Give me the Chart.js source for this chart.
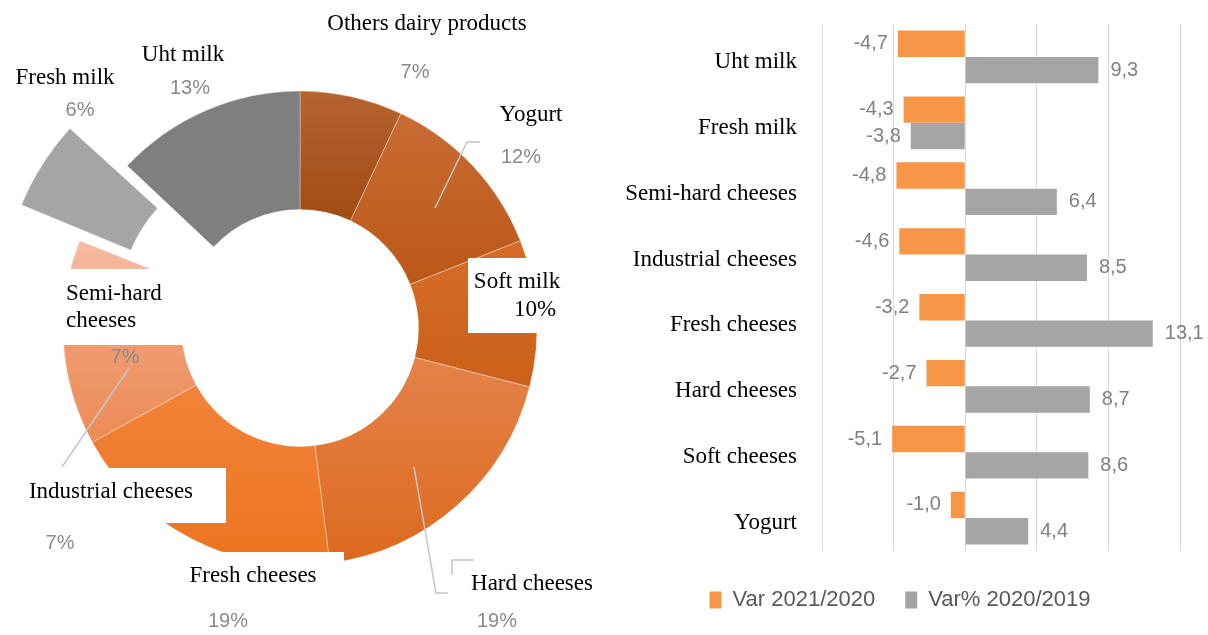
<!DOCTYPE html>
<html>
<head>
<meta charset="utf-8">
<script src="https://cdn.jsdelivr.net/npm/chart.js@4.4.1/dist/chart.umd.min.js"></script>
<style>
  html, body { margin: 0; padding: 0; background: #fff; width: 1208px; height: 635px; overflow: hidden; }
  #pie { position: absolute; left: 0; top: 0; }
  #bars { position: absolute; left: 600px; top: 0; }
</style>
</head>
<body>
<canvas id="pie" width="600" height="635"></canvas>
<canvas id="bars" width="608" height="635"></canvas>
<script>
// left: share of sales (%)
const shareLabels = ["Others dairy products", "Yogurt", "Soft milk", "Hard cheeses", "Fresh cheeses",
                     "Industrial cheeses", "Semi-hard cheeses", "Fresh milk", "Uht milk"];
const shares = [7, 12, 10, 19, 19, 7, 7, 6, 13];

// right: variations by product
const categories = ["Uht milk", "Fresh milk", "Semi-hard cheeses", "Industrial cheeses",
                    "Fresh cheeses", "Hard cheeses", "Soft cheeses", "Yogurt"];
const var2021 = [-4.7, -4.3, -4.8, -4.6, -3.2, -2.7, -5.1, -1.0];
const var2020 = [9.3, -3.8, 6.4, 8.5, 13.1, 8.7, 8.6, 4.4];

const SERIF = '"Liberation Serif", "DejaVu Serif", serif';
const SANS = '"Liberation Sans", Arial, sans-serif';

// slice shading: [stop0, colour0, stop1, colour1] as fraction of ring height
const sliceShade = [
  [0.00, "#b6632f", 0.30, "#a04a12"],
  [0.05, "#c86c34", 0.42, "#bb5716"],
  [0.35, "#d46c27", 0.63, "#cc6019"],
  [0.57, "#e5824a", 1.00, "#dc6a1e"],
  [0.60, "#f3843a", 1.00, "#ec7420"],
  [0.32, "#f4ac8c", 0.72, "#ec8d58"],
  [0.32, "#f6b9a0", 0.72, "#ee9a6c"],
  [0, "#a5a5a5", 1, "#a5a5a5"],
  [0, "#7f7f7f", 1, "#7f7f7f"]
];

// label placement around the ring (page coordinates)
const labelPos = [
  { name: [[427, 24, "center"]], pct: [415, 72] },
  { name: [[531, 115, "center"]], pct: [521, 157] },
  { name: [[517, 282, "center"]], pct: [535, 310], serifPct: true },
  { name: [[532, 584, "center"]], pct: [497, 621] },
  { name: [[253, 576, "center"]], pct: [228, 621] },
  { name: [[111, 492, "center"]], pct: [60, 543] },
  { name: [[66, 294, "left"], [66, 321, "left"]], pct: [125, 357] },
  { name: [[65, 78, "center"]], pct: [80, 110] },
  { name: [[183, 55, "center"]], pct: [190, 88] }
];
const labelBoxes = [
  [468, 258, 578, 333],
  [50, 269, 200, 345],
  [10, 468, 226, 523],
  [128, 552, 344, 602],
  [456, 559, 606, 612]
];
const leaders = [
  [[435, 208], [467, 142], [480, 142]],
  [[129, 368], [62, 467]],
  [[414, 467], [436, 593], [448, 593]],
  [[452, 575], [452, 560], [474, 560]]
];

const pieNotes = {
  id: "pieNotes",
  afterDatasetsDraw(chart) {
    const c = chart.ctx;
    c.save();
    c.fillStyle = "#fff";
    labelBoxes.forEach(b => c.fillRect(b[0], b[1], b[2] - b[0], b[3] - b[1]));
    c.strokeStyle = "#c6c6c6";
    c.lineWidth = 1.5;
    leaders.forEach(l => {
      c.beginPath();
      l.forEach((p, i) => i ? c.lineTo(p[0], p[1]) : c.moveTo(p[0], p[1]));
      c.stroke();
    });
    c.textBaseline = "middle";
    shareLabels.forEach((name, i) => {
      const L = labelPos[i];
      const parts = L.name.length > 1 ? name.split(" ") : [name];
      c.font = "23px " + SERIF;
      c.fillStyle = "#000";
      L.name.forEach((p, k) => {
        c.textAlign = p[2];
        c.fillText(parts[k], p[0], p[1]);
      });
      c.textAlign = "center";
      if (L.serifPct) {
        c.font = "23px " + SERIF;
        c.fillStyle = "#000";
      } else {
        c.font = "20px " + SANS;
        c.fillStyle = "#8a8a8a";
      }
      c.fillText(shares[i] + "%", L.pct[0], L.pct[1]);
    });
    c.restore();
  }
};

new Chart(document.getElementById("pie"), {
  type: "doughnut",
  data: {
    labels: shareLabels,
    datasets: [{
      data: shares,
      backgroundColor(ctx) {
        const chart = ctx.chart;
        const area = chart.chartArea;
        const s = sliceShade[ctx.dataIndex];
        if (!area) return s[1];
        const cy = (area.top + area.bottom) / 2;
        const g = chart.ctx.createLinearGradient(0, cy - 237, 0, cy + 237);
        g.addColorStop(s[0], s[1]);
        g.addColorStop(s[2], s[3]);
        return g;
      },
      borderColor: "rgba(255,255,255,0.35)",
      borderWidth: 1,
      // Chart.js moves an arc by about 0.4 * offset
      offset: [0, 0, 0, 0, 0, 0, 0, 167, 0]
    }]
  },
  options: {
    responsive: false,
    animation: false,
    events: [],
    radius: 237,
    cutout: "50%",
    layout: { padding: { top: 21 } },
    plugins: { legend: { display: false }, tooltip: { enabled: false } }
  },
  plugins: [pieNotes]
});

const barValues = {
  id: "barValues",
  afterDatasetsDraw(chart) {
    const c = chart.ctx;
    c.save();
    c.font = "20px " + SANS;
    c.fillStyle = "#808080";
    c.textBaseline = "middle";
    chart.data.datasets.forEach((ds, di) => {
      chart.getDatasetMeta(di).data.forEach((bar, i) => {
        const v = ds.data[i];
        const txt = v.toFixed(1).replace(".", ",");
        if (v < 0) {
          c.textAlign = "right";
          c.fillText(txt, bar.x - 10, bar.y);
        } else {
          c.textAlign = "left";
          c.fillText(txt, bar.x + 12, bar.y);
        }
      });
    });
    c.restore();
  }
};

new Chart(document.getElementById("bars"), {
  type: "bar",
  data: {
    labels: categories,
    datasets: [
      { label: "Var 2021/2020", data: var2021, backgroundColor: "#f79646",
        categoryPercentage: 0.8, barPercentage: 1 },
      { label: "Var% 2020/2019", data: var2020, backgroundColor: "#a5a5a5",
        categoryPercentage: 0.8, barPercentage: 1 }
    ]
  },
  options: {
    indexAxis: "y",
    responsive: false,
    animation: false,
    events: [],
    layout: { padding: { top: 24, right: 28, left: 20, bottom: 14 } },
    scales: {
      x: {
        min: -10, max: 15,
        ticks: { display: false, stepSize: 5 },
        grid: { color: "#d9d9d9", drawTicks: false },
        border: { display: false },
        afterFit(s) { s.height = 8; }
      },
      y: {
        grid: { display: false },
        border: { display: false },
        ticks: { color: "#000", font: { family: SERIF, size: 23 }, padding: 17, labelOffset: 5 },
        afterFit(s) {
          s.width = 202;
          s.paddingTop = 0;
          s.paddingBottom = 0;
        }
      }
    },
    plugins: {
      legend: {
        position: "bottom",
        labels: { boxWidth: 12, boxHeight: 17, padding: 30, color: "#595959",
                  font: { family: SANS, size: 22 } }
      },
      tooltip: { enabled: false }
    }
  },
  plugins: [barValues]
});
</script>
</body>
</html>
